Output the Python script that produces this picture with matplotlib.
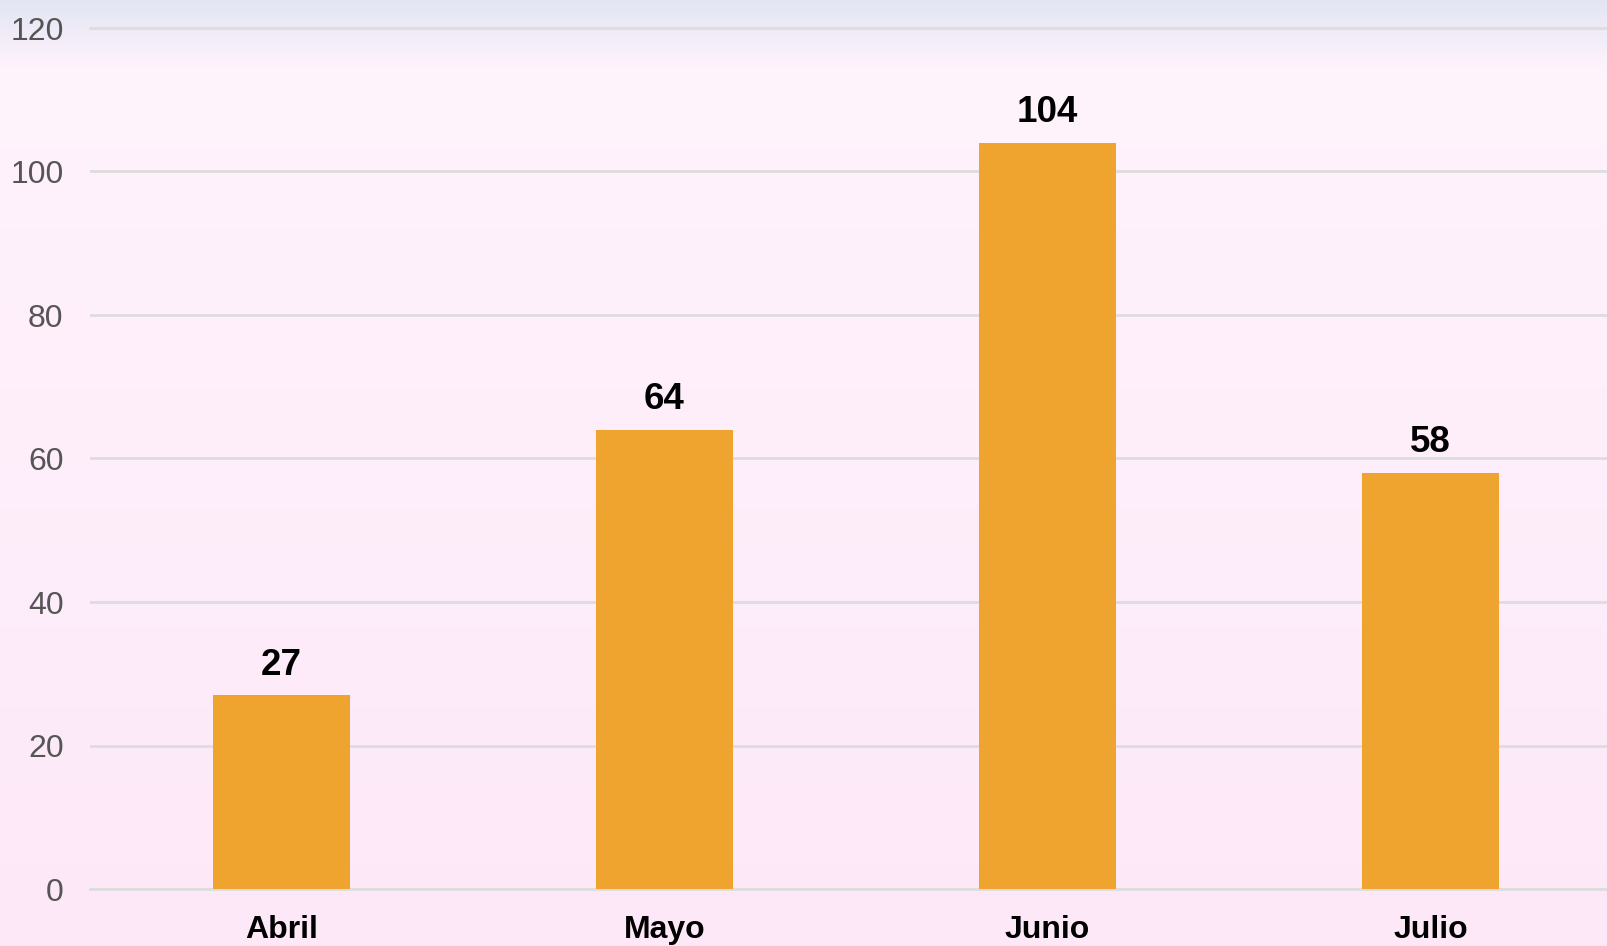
import numpy as np
import matplotlib
matplotlib.use("Agg")
import matplotlib.pyplot as plt

categories = ["Abril", "Mayo", "Junio", "Julio"]
values = [27, 64, 104, 58]
yticks = [0, 20, 40, 60, 80, 100, 120]

W, H = 1608, 946
fig = plt.figure(figsize=(W / 100, H / 100), dpi=100)

# background gradient
bg_ax = fig.add_axes([0, 0, 1, 1], zorder=-10)
ys = np.linspace(0, 1, H)
top = np.array([226, 229, 243]) / 255
mid = np.array([255, 243, 252]) / 255
bot = np.array([253, 232, 248]) / 255
grad = np.zeros((H, 1, 3))
for i, y in enumerate(ys):
    px = y * H
    if px < 70:
        t = px / 70
        grad[i, 0] = top * (1 - t) + mid * t
    else:
        t = (px - 70) / (H - 70)
        grad[i, 0] = mid * (1 - t) + bot * t
bg_ax.imshow(grad, aspect="auto", extent=[0, 1, 0, 1], origin="upper")
bg_ax.axis("off")

left = 90 / W
right = 1622 / W
ax_bottom = 1 - 889 / H
ax_top = 1 - 28 / H
ax = fig.add_axes([left, ax_bottom, right - left, ax_top - ax_bottom])
ax.set_facecolor("none")

x = np.arange(len(categories))
ax.bar(x, values, width=0.356, color="#EFA430", zorder=3)
for xi, v in zip(x, values):
    ax.annotate(str(v), (xi, v), xytext=(0, 9), textcoords="offset points",
                ha="center", va="bottom", fontsize=26.5, fontweight="bold",
                family="Liberation Sans", color="#000000")

ax.set_xlim(-0.5, len(categories) - 0.5)
ax.set_ylim(0, 120)
ax.set_yticks(yticks)
ax.set_yticklabels([str(t) for t in yticks], family="Liberation Sans", fontsize=23, color="#555555")
ax.set_xticks(x)
ax.set_xticklabels(categories, family="Liberation Sans", fontsize=23, fontweight="bold", color="#000000")
ax.tick_params(axis="y", length=0, pad=19)
ax.tick_params(axis="x", length=0, pad=19)
ax.grid(axis="y", color="#DDDDDD", linewidth=2, zorder=0)
ax.axhline(0, color="#DDDDDD", linewidth=2, zorder=2, clip_on=False)
ax.axhline(120, color="#DDDDDD", linewidth=2, zorder=2, clip_on=False)
for s in ax.spines.values():
    s.set_visible(False)

fig.savefig("out.png", dpi=100)
